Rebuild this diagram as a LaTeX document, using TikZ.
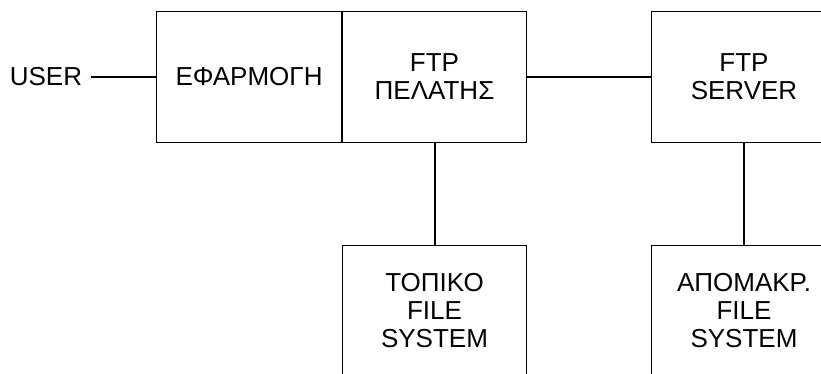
\documentclass[tikz,border=0pt]{standalone}
\usepackage{fontspec}
\setmainfont{Liberation Sans}
\usetikzlibrary{positioning}
\tikzset{
	blockbox/.style={draw,line width=1pt,minimum width=184.5pt,minimum height=131pt,
		align=center,inner sep=0pt,font=\fontsize{26}{28}\selectfont},
	wire/.style={line width=2pt}
}
\begin{document}
\begin{tikzpicture}
	\clip (0,0) rectangle (821pt,-373pt);

	\node[blockbox] (app) at (249pt,-76.5pt) {ΕΦΑΡΜΟΓΗ};
	\node[blockbox,right=0pt of app] (client) {FTP\\ΠΕΛΑΤΗΣ};
	\node[blockbox,right=124pt of client] (server) {FTP\\SERVER};
	\node[blockbox,below=102pt of client] (localfs) {ΤΟΠΙΚΟ\\FILE\\SYSTEM};
	\node[blockbox,below=102pt of server] (remotefs) {ΑΠΟΜΑΚΡ.\\FILE\\SYSTEM};
	\node[inner sep=0pt,left=74pt of app,font=\fontsize{26}{28}\selectfont] (user) {USER};

	\draw[wire] (user.east) ++(9pt,0) coordinate (userend) -- (app.west);
	\draw[wire] (client) -- (server);
	\draw[wire] (client) -- (localfs);
	\draw[wire] (server) -- (remotefs);
\end{tikzpicture}
\end{document}
